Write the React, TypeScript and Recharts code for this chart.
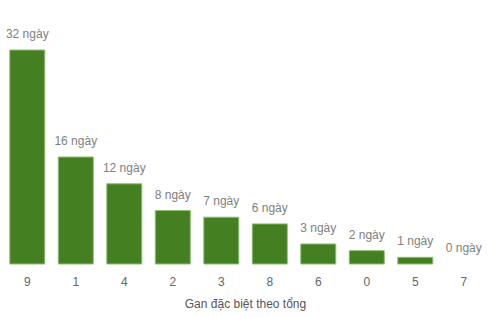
import { BarChart, Bar, XAxis, YAxis, LabelList, Rectangle } from 'recharts';

const digits = ['9', '1', '4', '2', '3', '8', '6', '0', '5', '7'];
const days = [32, 16, 12, 8, 7, 6, 3, 2, 1, 0];
const axisTitle = 'Gan đặc biệt theo tổng';

const data = digits.map((d, i) => ({ digit: d, days: days[i] }));

const font = '"Liberation Sans", Arial, sans-serif';

// label above each bar, drawn by hand so it does not wrap to bar width
const renderDayLabel = (props: any) => {
  const { x, y, width, height, value } = props;
  const top = Number(y) + (Number(value) === 0 ? Number(height) : 0);
  return (
    <text
      x={Number(x) + Number(width) / 2}
      y={top - 12}
      textAnchor="middle"
      fill="#808080"
      fontSize={12}
      fontFamily={font}
    >
      {`${value} ngày`}
    </text>
  );
};

// zero bars get a 1px min size so their label shows, but are not painted
const renderBar = (props: any) => {
  if (Number(props.value) === 0) return <g />;
  return <Rectangle {...props} />;
};

export default function App() {
  return (
    <div style={{ position: 'absolute', left: 0, top: 0, fontFamily: font }}>
      <BarChart
        width={492}
        height={317}
        data={data}
        margin={{ top: 50, right: 4, left: 3, bottom: 0 }}
        barCategoryGap="14%"
      >
        <XAxis
          dataKey="digit"
          height={53}
          axisLine={false}
          tickLine={false}
          tickSize={0}
          tickMargin={13}
          tick={{ fill: '#666', fontSize: 12, fontFamily: font }}
          label={{
            value: axisTitle,
            position: 'insideBottom',
            offset: 9,
            fill: '#555',
            fontSize: 12,
            fontFamily: font,
          }}
        />
        <YAxis hide domain={[0, 32]} />
        <Bar
          dataKey="days"
          fill="#447f22"
          stroke="#8fbf72"
          strokeWidth={1}
          minPointSize={1}
          shape={renderBar}
          isAnimationActive={false}
        >
          <LabelList dataKey="days" content={renderDayLabel} />
        </Bar>
      </BarChart>
    </div>
  );
}
